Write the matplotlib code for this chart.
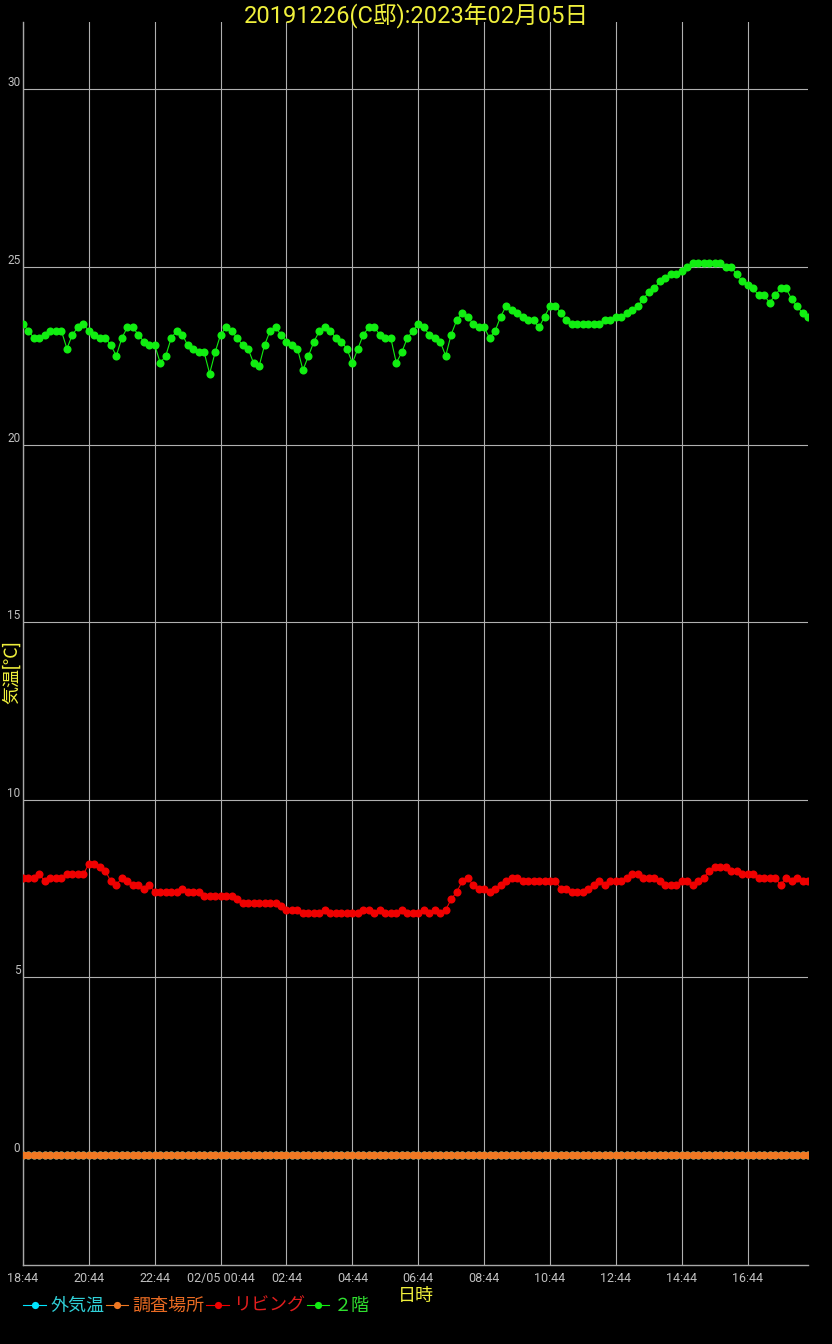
import matplotlib
matplotlib.use("Agg")
import matplotlib.pyplot as plt
from matplotlib.lines import Line2D
import pandas as pd

plt.rcParams['font.family'] = ['Roboto', 'Noto Sans CJK JP', 'DejaVu Sans']

BG     = "black"
GRID   = "#b0b0b0"
MUTED  = "#c0c0c0"
YELLOW = "#f0f03c"

TITLE = "20191226(C邸):2023年02月05日"
START = "2023-02-04 18:44"

# 10-minute readings, 18:44 -> 18:34 next day
green = [23.4, 23.2, 23.0, 23.0, 23.1, 23.2, 23.2, 23.2, 22.7, 23.1, 23.3, 23.4,
         23.2, 23.1, 23.0, 23.0, 22.8, 22.5, 23.0, 23.3, 23.3, 23.1, 22.9, 22.8,
         22.8, 22.3, 22.5, 23.0, 23.2, 23.1, 22.8, 22.7, 22.6, 22.6, 22.0, 22.6,
         23.1, 23.3, 23.2, 23.0, 22.8, 22.7, 22.3, 22.2, 22.8, 23.2, 23.3, 23.1,
         22.9, 22.8, 22.7, 22.1, 22.5, 22.9, 23.2, 23.3, 23.2, 23.0, 22.9, 22.7,
         22.3, 22.7, 23.1, 23.3, 23.3, 23.1, 23.0, 23.0, 22.3, 22.6, 23.0, 23.2,
         23.4, 23.3, 23.1, 23.0, 22.9, 22.5, 23.1, 23.5, 23.7, 23.6, 23.4, 23.3,
         23.3, 23.0, 23.2, 23.6, 23.9, 23.8, 23.7, 23.6, 23.5, 23.5, 23.3, 23.6,
         23.9, 23.9, 23.7, 23.5, 23.4, 23.4, 23.4, 23.4, 23.4, 23.4, 23.5, 23.5,
         23.6, 23.6, 23.7, 23.8, 23.9, 24.1, 24.3, 24.4, 24.6, 24.7, 24.8, 24.8,
         24.9, 25.0, 25.1, 25.1, 25.1, 25.1, 25.1, 25.1, 25.0, 25.0, 24.8, 24.6,
         24.5, 24.4, 24.2, 24.2, 24.0, 24.2, 24.4, 24.4, 24.1, 23.9, 23.7, 23.6]

red = [7.8, 7.8, 7.8, 7.9, 7.7, 7.8, 7.8, 7.8, 7.9, 7.9, 7.9, 7.9,
       8.2, 8.2, 8.1, 8.0, 7.7, 7.6, 7.8, 7.7, 7.6, 7.6, 7.5, 7.6,
       7.4, 7.4, 7.4, 7.4, 7.4, 7.5, 7.4, 7.4, 7.4, 7.3, 7.3, 7.3,
       7.3, 7.3, 7.3, 7.2, 7.1, 7.1, 7.1, 7.1, 7.1, 7.1, 7.1, 7.0,
       6.9, 6.9, 6.9, 6.8, 6.8, 6.8, 6.8, 6.9, 6.8, 6.8, 6.8, 6.8,
       6.8, 6.8, 6.9, 6.9, 6.8, 6.9, 6.8, 6.8, 6.8, 6.9, 6.8, 6.8,
       6.8, 6.9, 6.8, 6.9, 6.8, 6.9, 7.2, 7.4, 7.7, 7.8, 7.6, 7.5,
       7.5, 7.4, 7.5, 7.6, 7.7, 7.8, 7.8, 7.7, 7.7, 7.7, 7.7, 7.7,
       7.7, 7.7, 7.5, 7.5, 7.4, 7.4, 7.4, 7.5, 7.6, 7.7, 7.6, 7.7,
       7.7, 7.7, 7.8, 7.9, 7.9, 7.8, 7.8, 7.8, 7.7, 7.6, 7.6, 7.6,
       7.7, 7.7, 7.6, 7.7, 7.8, 8.0, 8.1, 8.1, 8.1, 8.0, 8.0, 7.9,
       7.9, 7.9, 7.8, 7.8, 7.8, 7.8, 7.6, 7.8, 7.7, 7.8, 7.7, 7.7]

outside = [0.0] * 144
survey  = [0.0] * 144

labels = ["外気温", "調査場所", "リビング", "２階"]
line_colors = ["#00e5ff", "#f07822", "#f00000", "#11ee11"]
text_colors = ["#30d0d8", "#e86a22", "#e01e1e", "#30e030"]

xtick_labels = ["18:44", "20:44", "22:44", "02/05 00:44", "02:44", "04:44",
                "06:44", "08:44", "10:44", "12:44", "14:44", "16:44"]
yticks = [0, 5, 10, 15, 20, 25, 30]

times = pd.date_range(START, periods=len(green), freq="10min")
xticks = pd.date_range(START, periods=len(xtick_labels), freq="2h")

fig = plt.figure(figsize=(8.32, 13.44), dpi=100)
fig.patch.set_facecolor(BG)
ax = fig.add_axes([23 / 832, 1 - 1265 / 1344, 785 / 832, 1243 / 1344])
ax.set_facecolor(BG)

series = [outside, survey, red, green]
for vals, col, lab in zip(series, line_colors, labels):
    ax.plot(times, vals, color=col, lw=0.8, marker="o", markersize=5.8,
            markeredgewidth=0, label=lab, zorder=3)

ax.set_xlim(times[0], times[-1])
ax.set_ylim(-3.1, 31.9)

ax.set_xticks(xticks)
ax.set_xticklabels(xtick_labels, color=MUTED, fontsize=9)
ax.set_yticks(yticks)
ax.set_yticklabels([str(v) for v in yticks], color=MUTED, fontsize=8.5)
for lbl in ax.get_yticklabels():
    lbl.set_verticalalignment("bottom")
ax.tick_params(axis="both", length=0)
ax.tick_params(axis="x", pad=5)
ax.tick_params(axis="y", pad=2)

ax.grid(True, color=GRID, lw=0.8)
ax.set_axisbelow(True)
for side in ["top", "right"]:
    ax.spines[side].set_visible(False)
for side in ["left", "bottom"]:
    ax.spines[side].set_color("#a8a8a8")
    ax.spines[side].set_linewidth(1.0)

fig.text(0.5, 1 - 16 / 1344, TITLE, ha="center", va="center",
         color=YELLOW, fontsize=17)
fig.text(12 / 832, 1 - 672 / 1344, "気温[℃]", ha="center", va="center",
         rotation=90, color=YELLOW, fontsize=13)
fig.text(416 / 832, 1 - 1296 / 1344, "日時", ha="center", va="center",
         color=YELLOW, fontsize=13)

handles = [Line2D([], [], color=c, lw=0.8, marker="o", markersize=5.2,
                  markeredgewidth=0) for c in line_colors]
leg = fig.legend(handles, labels, loc="center left",
                 bbox_to_anchor=(16 / 832, 1 - 1306 / 1344), ncol=4,
                 frameon=False, fontsize=13, handlelength=1.25,
                 handletextpad=0.25, columnspacing=0.08, borderaxespad=0)
for txt, c in zip(leg.get_texts(), text_colors):
    txt.set_color(c)

fig.savefig("out.png", dpi=100, facecolor=BG)
